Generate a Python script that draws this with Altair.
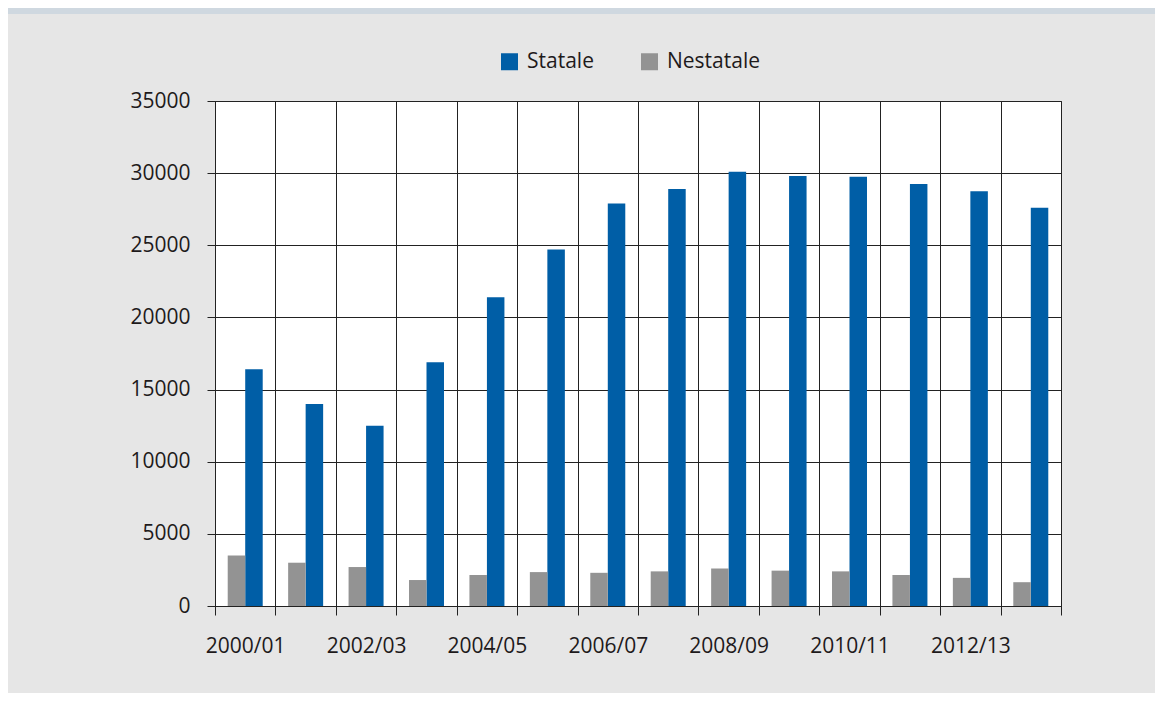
import altair as alt
import pandas as pd

years = ["2000/01", "2001/02", "2002/03", "2003/04", "2004/05", "2005/06", "2006/07",
         "2007/08", "2008/09", "2009/10", "2010/11", "2011/12", "2012/13", "2013/14"]
statale = [16400, 14000, 12500, 16900, 21400, 24700, 27900,
           28900, 30100, 29800, 29750, 29250, 28750, 27600]
nestatale = [3500, 3000, 2700, 1800, 2150, 2350, 2300,
             2400, 2600, 2450, 2400, 2150, 1950, 1650]
series = ["Statale", "Nestatale"]
colors = ["#005ea6", "#939393"]

rows = []
for y, s, n in zip(years, statale, nestatale):
    rows.append({"year": y, "tip": "Statale", "val": s})
    rows.append({"year": y, "tip": "Nestatale", "val": n})
df = pd.DataFrame(rows)

FONT = "Open Sans"
TXT = "#1e1a1b"

bars = alt.Chart(df).mark_bar().encode(
    x=alt.X("year:N", sort=years,
            scale=alt.Scale(paddingInner=0, paddingOuter=0),
            axis=alt.Axis(title=None, labelAngle=0, tickBand="extent", grid=True,
                          gridColor="#222222", gridWidth=1, gridOpacity=1,
                          tickColor="#222222", tickSize=9, tickWidth=1,
                          domainColor="#222222", domainWidth=1,
                          labelExpr="parseInt(substring(datum.value,0,4)) % 2 == 0 ? datum.label : ''",
                          labelFont=FONT, labelFontSize=21, labelColor=TXT,
                          labelPadding=20)),
    xOffset=alt.XOffset("tip:N", sort=["Nestatale", "Statale"],
                        scale=alt.Scale(paddingInner=0, paddingOuter=0.7266)),
    y=alt.Y("val:Q", scale=alt.Scale(domain=[0, 35000], nice=False),
            axis=alt.Axis(title=None, values=list(range(0, 35001, 5000)), format="d",
                          grid=True, gridColor="#222222", gridWidth=1, gridOpacity=1,
                          tickColor="#222222", tickSize=8, tickWidth=1,
                          domainColor="#222222", domainWidth=1,
                          labelFont=FONT, labelFontSize=21, labelColor=TXT,
                          labelPadding=17)),
    color=alt.Color("tip:N", scale=alt.Scale(domain=series, range=colors),
                    legend=alt.Legend(title=None, orient="none", direction="horizontal",
                                      legendX=284, legendY=-50, symbolType="square",
                                      symbolSize=289, symbolStrokeWidth=0, symbolOpacity=1,
                                      labelFont=FONT, labelFontSize=21, labelColor=TXT,
                                      labelOffset=7, columnPadding=45, padding=0)),
)

band = alt.Chart(pd.DataFrame({"k": [0]})).mark_rect(color="#cfd8e0", clip=False).encode(
    x=alt.value(-207), x2=alt.value(946), y=alt.value(-93), y2=alt.value(-87)
)

chart = alt.layer(bars, band).properties(
    width=846, height=505,
    padding={"left": 207, "top": 93, "right": 94, "bottom": 87},
    autosize="none",
    background="#e6e6e6",
).configure_view(
    fill="white", stroke="#333333", strokeWidth=1
)

chart.save("out.html", embed_options={"renderer": "svg", "actions": False})
